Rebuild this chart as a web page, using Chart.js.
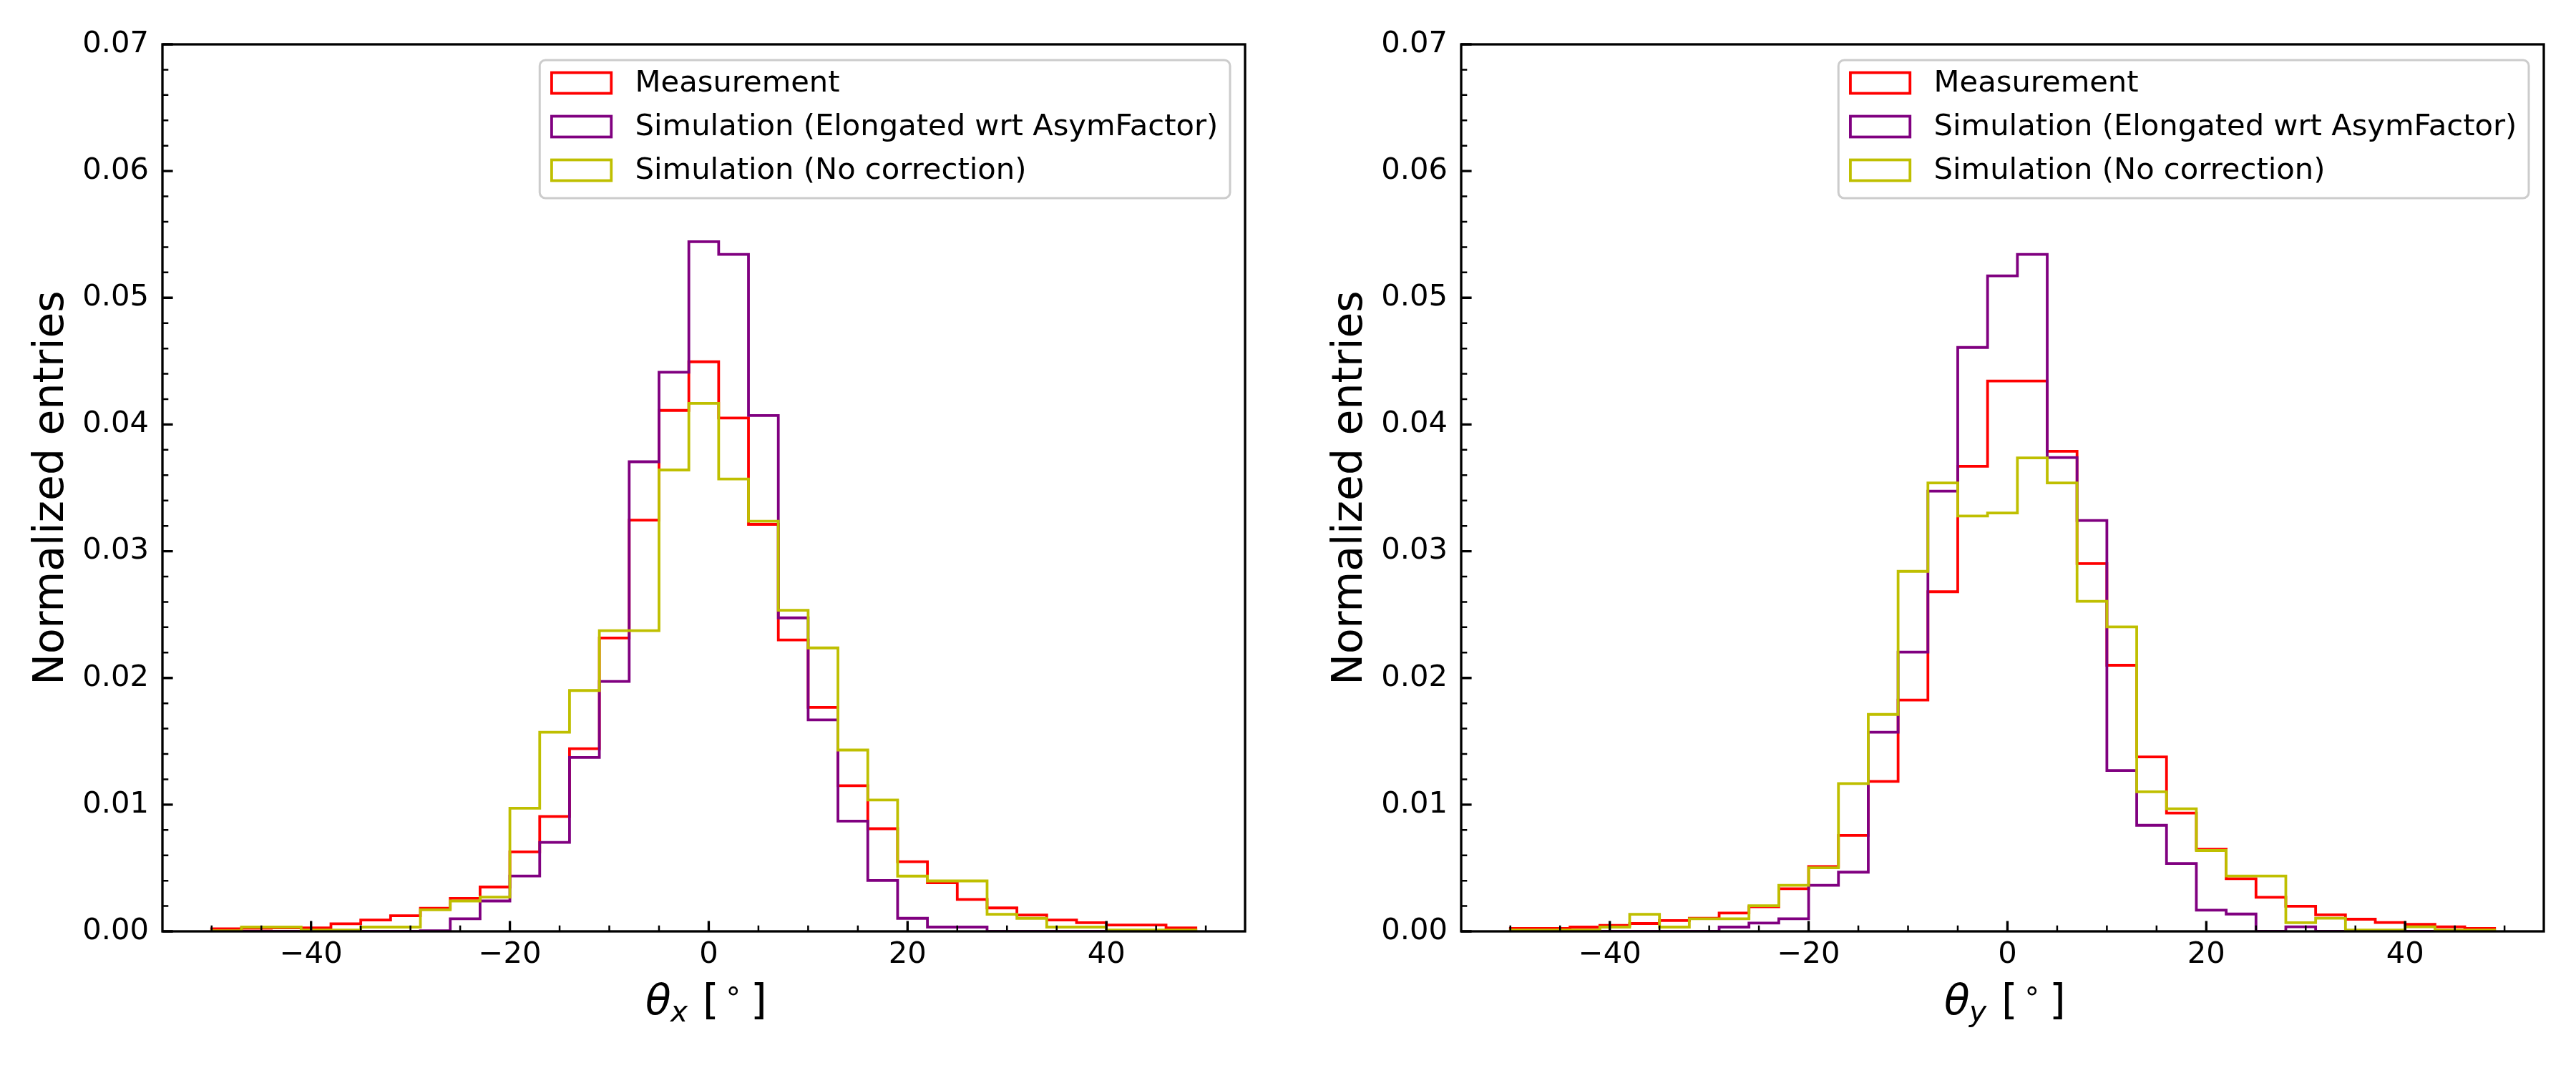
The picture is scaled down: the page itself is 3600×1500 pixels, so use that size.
<!DOCTYPE html>
<html>
<head>
<meta charset="utf-8">
<script src="https://cdn.jsdelivr.net/npm/chart.js@4.4.0/dist/chart.umd.min.js"></script>
<style>
  html, body { margin: 0; padding: 0; background: #ffffff; }
  #wrap { position: relative; width: 3600px; height: 1500px; background: #ffffff; }
  canvas { position: absolute; top: 0; }
  #cL { left: 0px; }
  #cR { left: 1800px; }
</style>
</head>
<body>
<div id="wrap">
  <canvas id="cL" width="1800" height="1500"></canvas>
  <canvas id="cR" width="1800" height="1500"></canvas>
</div>
<script>
// ---------------- DATA ----------------
const binEdges = [-50,-47,-44,-41,-38,-35,-32,-29,-26,-23,-20,-17,-14,-11,-8,-5,-2,1,4,7,10,13,16,19,22,25,28,31,34,37,40,43,46,49];

const seriesLabels = ['Measurement', 'Simulation (Elongated wrt AsymFactor)', 'Simulation (No correction)'];
const seriesColors = ['#ff0000', '#800080', '#bfbf00'];

// theta_x panel
const measX = [0.0002,0.00025,0.00028,0.00028,0.0006,0.0009,0.00123,0.00183,0.0026,0.0035,
               0.00627,0.00907,0.01442,0.02315,0.03245,0.04111,0.04495,0.04051,0.03212,0.023,
               0.01768,0.0115,0.0081,0.0055,0.00383,0.00252,0.00185,0.00129,0.0009,0.00069,
               0.0005,0.0005,0.00028];
const simElongX = [0,0,0,0,0,0,0,0.00005,0.001,0.0024,
                   0.00437,0.00702,0.01372,0.01972,0.03706,0.04412,0.05443,0.05342,0.04071,0.02474,
                   0.01669,0.0087,0.00401,0.00103,0.00034,0.00034,0,0,0,0,
                   0,0,0];
const simNoCorrX = [0.00005,0.00034,0.00034,0.0001,0.0001,0.00034,0.00034,0.0017,0.0024,0.0027,
                    0.00972,0.01572,0.01901,0.02373,0.02373,0.03641,0.04167,0.0357,0.03237,0.02534,
                    0.02237,0.01431,0.01037,0.00436,0.00398,0.00398,0.00135,0.00103,0.00034,0.00034,
                    0.0001,0.0001,0.0001];

// theta_y panel
const measY = [0.00023,0.00023,0.00034,0.00047,0.00062,0.00085,0.00103,0.00145,0.00194,0.00337,
               0.00512,0.00757,0.01183,0.01826,0.0268,0.0367,0.04343,0.04343,0.03789,0.02902,
               0.021,0.01377,0.00934,0.00649,0.00416,0.00269,0.00198,0.0013,0.00096,0.0007,
               0.00055,0.00036,0.00023];
const simElongY = [0,0,0,0,0,0,0,0.00034,0.00066,0.001,
                   0.00363,0.00467,0.01572,0.02204,0.03474,0.04608,0.05173,0.05342,0.03739,0.03242,
                   0.01269,0.00837,0.00536,0.00167,0.00137,0,0.00036,0,0,0,
                   0,0,0];
const simNoCorrY = [0.0001,0.0001,0.0001,0.00034,0.00135,0.00034,0.001,0.001,0.00203,0.00363,
                    0.00502,0.01166,0.01712,0.02841,0.03539,0.03278,0.03302,0.03736,0.03539,0.02605,
                    0.02403,0.01101,0.00967,0.00638,0.00437,0.00437,0.00068,0.00104,0.0001,0.0001,
                    0.00036,0.0001,0.0001];

const xTicks = [-40, -20, 0, 20, 40];
const xMinorTicks = [-50,-45,-35,-30,-25,-15,-10,-5,5,10,15,25,30,35,45,50];
const yTicks = [0, 0.01, 0.02, 0.03, 0.04, 0.05, 0.06, 0.07];
const yMinorStep = 0.002;
const xLimits = [-54.95, 53.95];
const yLimits = [0, 0.07];
const yAxisTitle = 'Normalized entries';

// ---------------- STYLE ----------------
const FONT = '"DejaVu Sans", "Liberation Sans", sans-serif';
const TICK_PX = 41.67;
const LABEL_PX = 58.33;
const LINE_W = 3.8;

function histPoints(values) {
  const pts = [{ x: binEdges[0], y: 0 }];
  values.forEach((v, i) => pts.push({ x: binEdges[i], y: v }));
  pts.push({ x: binEdges[binEdges.length - 1], y: 0 });
  return pts;
}

function fmtX(v) {
  return v < 0 ? '\u2212' + Math.abs(v) : String(v);
}

const decorPlugin = {
  id: 'decor',
  afterDatasetsDraw(chart) {
    const { ctx, chartArea: a, scales: { x, y } } = chart;
    ctx.save();
    ctx.strokeStyle = '#000';
    ctx.lineCap = 'butt';
    // minor ticks (inward)
    ctx.lineWidth = 2.5;
    ctx.beginPath();
    xMinorTicks.forEach(v => {
      const px = x.getPixelForValue(v);
      ctx.moveTo(px, a.bottom); ctx.lineTo(px, a.bottom - 8.3);
    });
    for (let k = 1; k * yMinorStep < yLimits[1] - 1e-9; k++) {
      if (k % 5 === 0) continue;
      const py = y.getPixelForValue(k * yMinorStep);
      ctx.moveTo(a.left, py); ctx.lineTo(a.left + 8.3, py);
    }
    ctx.stroke();
    // major ticks
    ctx.lineWidth = 3.33;
    ctx.beginPath();
    xTicks.forEach(v => {
      const px = x.getPixelForValue(v);
      ctx.moveTo(px, a.bottom); ctx.lineTo(px, a.bottom - 14.6);
    });
    yTicks.forEach(v => {
      const py = y.getPixelForValue(v);
      ctx.moveTo(a.left, py); ctx.lineTo(a.left + 14.6, py);
    });
    ctx.stroke();
    // frame
    ctx.lineWidth = 3.33;
    ctx.strokeRect(a.left, a.top, a.right - a.left, a.bottom - a.top);
    ctx.restore();
  },
  afterDraw(chart) {
    const { ctx, chartArea: a } = chart;
    // ---- legend ----
    ctx.save();
    const fs = TICK_PX;
    ctx.font = `${fs}px ${FONT}`;
    const ds = chart.data.datasets;
    let maxW = 0;
    ds.forEach(d => { maxW = Math.max(maxW, ctx.measureText(d.label).width); });
    const pad = 0.4 * fs, hLen = 2 * fs, hPad = 0.8 * fs;
    const boxW = pad + hLen + hPad + maxW + pad;
    const boxH = 193;
    const bx = a.right - 21 - boxW, by = a.top + 22;
    const r = 8;
    ctx.beginPath();
    ctx.moveTo(bx + r, by);
    ctx.lineTo(bx + boxW - r, by); ctx.arcTo(bx + boxW, by, bx + boxW, by + r, r);
    ctx.lineTo(bx + boxW, by + boxH - r); ctx.arcTo(bx + boxW, by + boxH, bx + boxW - r, by + boxH, r);
    ctx.lineTo(bx + r, by + boxH); ctx.arcTo(bx, by + boxH, bx, by + boxH - r, r);
    ctx.lineTo(bx, by + r); ctx.arcTo(bx, by, bx + r, by, r);
    ctx.closePath();
    ctx.fillStyle = 'rgba(255,255,255,0.8)';
    ctx.fill();
    ctx.strokeStyle = '#cccccc';
    ctx.lineWidth = 3;
    ctx.stroke();
    ds.forEach((d, i) => {
      const cy = by + 32 + i * 61;
      ctx.strokeStyle = d.borderColor;
      ctx.lineWidth = LINE_W;
      ctx.strokeRect(bx + pad, cy - 14.5, hLen, 29);
      ctx.fillStyle = '#000';
      ctx.textBaseline = 'middle';
      ctx.textAlign = 'left';
      ctx.fillText(d.label, bx + pad + hLen + hPad, cy + 1);
    });
    ctx.restore();

    // ---- x-axis title: theta_sub [ ∘ ] ----
    ctx.save();
    ctx.fillStyle = '#000';
    ctx.textAlign = 'left';
    ctx.textBaseline = 'alphabetic';
    const cx = (a.left + a.right) / 2;
    const base = a.bottom + 116;
    const sub = chart.options.plugins.decor.sub;
    const pieces = [
      { t: '\u03B8', font: `italic ${LABEL_PX}px ${FONT}`, inkLeft: -80.5, base: base },
      { t: sub, font: `italic ${LABEL_PX * 0.7}px ${FONT}`, inkLeft: -48.5, base: base + 10 },
      { t: '[', font: `${LABEL_PX}px ${FONT}`, inkLeft: 3.5, base: base },
      { t: '\u2218', font: `${LABEL_PX * 0.7}px ${FONT}`, inkLeft: 34.5, center: base - 33.5 },
      { t: ']', font: `${LABEL_PX}px ${FONT}`, inkLeft: 70.5, base: base }
    ];
    pieces.forEach(p => {
      ctx.font = p.font;
      const m = ctx.measureText(p.t);
      const xo = cx + p.inkLeft + m.actualBoundingBoxLeft;
      let yo = p.base;
      if (p.center !== undefined) {
        yo = p.center + (m.actualBoundingBoxAscent - m.actualBoundingBoxDescent) / 2;
      }
      ctx.fillText(p.t, xo, yo);
    });
    ctx.restore();
  }
};

function makeChart(id, series, sub, padRight, yAxisWidth, yTitlePad) {
  const datasets = series.map((vals, i) => ({
    label: seriesLabels[i],
    data: histPoints(vals),
    borderColor: seriesColors[i],
    backgroundColor: 'rgba(0,0,0,0)',
    borderWidth: LINE_W,
    pointRadius: 0,
    pointHoverRadius: 0,
    fill: false,
    tension: 0,
    stepped: 'before',
    order: 3 - i,
    borderJoinStyle: 'miter',
    borderCapStyle: 'butt'
  }));
  return new Chart(document.getElementById(id), {
    type: 'line',
    data: { datasets },
    options: {
      responsive: false,
      animation: false,
      devicePixelRatio: 1,
      events: [],
      layout: { padding: { top: 62, right: padRight, left: 0, bottom: 0 } },
      plugins: {
        legend: { display: false },
        tooltip: { enabled: false },
        decor: { sub: sub }
      },
      scales: {
        x: {
          type: 'linear',
          min: xLimits[0], max: xLimits[1],
          grid: { display: false, drawTicks: false },
          border: { display: false },
          afterBuildTicks: s => { s.ticks = xTicks.map(v => ({ value: v })); },
          afterFit: s => { s.height = 198; },
          ticks: {
            color: '#000',
            font: { family: FONT, size: TICK_PX },
            padding: 8,
            maxRotation: 0,
            autoSkip: false,
            callback: v => fmtX(v)
          },
          title: { display: false }
        },
        y: {
          type: 'linear',
          min: yLimits[0], max: yLimits[1],
          grid: { display: false, drawTicks: false },
          border: { display: false },
          afterBuildTicks: s => { s.ticks = yTicks.map(v => ({ value: v })); },
          afterFit: s => { s.width = yAxisWidth; },
          ticks: {
            color: '#000',
            font: { family: FONT, size: TICK_PX },
            padding: 19,
            autoSkip: false,
            callback: v => Number(v).toFixed(2)
          },
          title: {
            display: true,
            text: yAxisTitle,
            color: '#000',
            font: { family: FONT, size: LABEL_PX },
            padding: { top: yTitlePad, bottom: 0 }
          }
        }
      }
    },
    plugins: [decorPlugin]
  });
}

makeChart('cL', [measX, simElongX, simNoCorrX], 'x', 60, 227, 38);
makeChart('cR', [measY, simElongY, simNoCorrY], 'y', 45, 242, 53);
</script>
</body>
</html>
